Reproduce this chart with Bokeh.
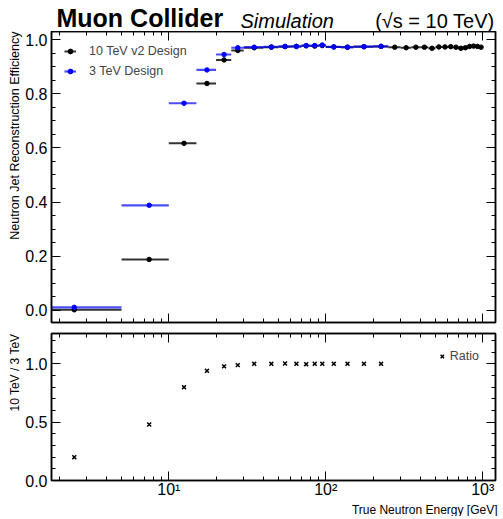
import numpy as np
from bokeh.plotting import figure
from bokeh.layouts import column
from bokeh.core.properties import value
from bokeh.models import (ColumnDataSource, FixedTicker, LogAxis, LinearAxis, Title,
                          Legend, LegendItem, SingleIntervalTicker, PrintfTickFormatter)
from bokeh.embed import file_html
from bokeh.resources import INLINE

# ---------------- data ----------------
edges_3tev = [0, 5, 10, 15, 20, 25, 30, 40, 50, 60, 70, 80, 90, 100, 125, 150, 200, 250]
edges_10tev = [0, 5, 10, 15, 20, 25, 30, 40, 50, 60, 70, 80, 90, 100, 125, 150, 200, 250,
               300, 350, 400, 450, 500, 550, 600, 650, 700, 750, 800, 850, 900, 950, 1000]

eff_10tev = [0.002, 0.188, 0.617, 0.838, 0.925, 0.960, 0.970, 0.972, 0.974, 0.975,
             0.977, 0.976, 0.978, 0.973, 0.972, 0.974, 0.975, 0.972, 0.970, 0.972,
             0.972, 0.968, 0.973, 0.973, 0.974, 0.972, 0.968, 0.970, 0.975, 0.976,
             0.975, 0.972]
eff_3tev = [0.011, 0.388, 0.765, 0.888, 0.945, 0.970, 0.972, 0.973, 0.975, 0.975,
            0.978, 0.978, 0.980, 0.973, 0.972, 0.974, 0.975]
ratio_vals = [0.20, 0.48, 0.80, 0.94, 0.978, 0.989, 1.0, 1.0, 1.003, 1.0,
              0.997, 1.0, 1.0, 1.0, 1.0, 1.0, 1.0]

title_main = "Muon Collider"
title_sub = "Simulation"
title_energy = "(\u221as = 10 TeV)"
legend_10 = "10 TeV v2 Design"
legend_3 = "3 TeV Design"
legend_ratio = "Ratio"
ylabel_top = "Neutron Jet Reconstruction Efficiency"
ylabel_bottom = "10 TeV / 3 TeV"
xlabel = "True Neutron Energy [GeV]"
x_major = [10, 100, 1000]
x_major_labels = {10: "10\u00b9", 100: "10\u00b2", 1000: "10\u00b3"}
x_minor = [2, 3, 4, 5, 6, 7, 8, 9, 20, 30, 40, 50, 60, 70, 80, 90,
           200, 300, 400, 500, 600, 700, 800, 900]
top_ticks = [0.0, 0.2, 0.4, 0.6, 0.8, 1.0]
ratio_ticks = [0.0, 0.5, 1.0]
ratio_minor = [0.1, 0.2, 0.3, 0.4, 0.6, 0.7, 0.8, 0.9, 1.1, 1.2]

# ---------------- layout constants ----------------
FONT = "Liberation Sans"
W = 503
LEFT, RIGHT = 51, 8
FRAME_W = W - LEFT - RIGHT
XMIN, XMAX = 1.79, 1205.0
TOP_Y = (-0.045, 1.03)
BOT_Y = (0.0, 1.26)
HEAD_H = 31


def make_src(edges, vals):
    e = np.array(edges, dtype=float)
    lo, hi = e[:-1], e[1:]
    return ColumnDataSource(dict(x=(lo + hi) / 2, x0=np.maximum(lo, XMIN / 2), x1=hi,
                                 y=np.array(vals, dtype=float)))


def tick_style(ax):
    ax.major_tick_in = 9
    ax.major_tick_out = 0
    ax.minor_tick_in = 4
    ax.minor_tick_out = 0
    ax.axis_line_color = "black"
    ax.axis_line_width = 1.5
    ax.major_tick_line_color = "black"
    ax.minor_tick_line_color = "black"
    ax.major_tick_line_width = 1
    ax.minor_tick_line_width = 1


def label_style(ax, overrides, standoff=4):
    ax.major_label_overrides = overrides
    ax.major_label_text_font = FONT
    ax.major_label_text_font_size = "16px"
    ax.major_label_text_color = "black"
    ax.major_label_standoff = standoff


def hide_labels(ax, ticks):
    ax.major_label_overrides = {t: " " for t in ticks}
    ax.major_label_text_font_size = "1px"
    ax.major_label_text_alpha = 0
    ax.major_label_standoff = 0


def setup_panel(p, yticker, yticks_major, show_x, y_overrides):
    xax = p.below[0]
    yax = p.left[0]
    xticker = FixedTicker(ticks=x_major, minor_ticks=x_minor)
    xax.ticker = xticker
    yax.ticker = yticker
    tick_style(xax)
    tick_style(yax)
    if show_x:
        label_style(xax, x_major_labels, standoff=0)
    else:
        hide_labels(xax, x_major)
    label_style(yax, y_overrides)
    top_ax = LogAxis(ticker=FixedTicker(ticks=x_major, minor_ticks=x_minor))
    right_ax = LinearAxis(ticker=yticker)
    tick_style(top_ax)
    tick_style(right_ax)
    hide_labels(top_ax, x_major)
    hide_labels(right_ax, yticks_major)
    p.add_layout(top_ax, "above")
    p.add_layout(right_ax, "right")
    p.grid.visible = False
    p.outline_line_color = "black"
    p.outline_line_width = 1.5
    p.background_fill_color = "white"
    p.border_fill_color = "white"


# ---------------- header (frame aligned with panels, data x == canvas px) ----------------
head = figure(frame_width=FRAME_W, frame_height=HEAD_H,
              x_range=(LEFT, LEFT + FRAME_W), y_range=(0, HEAD_H),
              output_backend="svg", toolbar_location=None,
              x_axis_location=None, y_axis_location=None,
              min_border_left=LEFT, min_border_right=RIGHT,
              min_border_top=0, min_border_bottom=0, outline_line_color=None)
head.grid.visible = False
head.text(x=[56], y=[14], text=[title_main], text_font=value(FONT),
          text_font_size="25px", text_font_style="bold", text_baseline="middle",
          text_align="left", text_color="black")
head.text(x=[240], y=[11], text=[title_sub], text_font=value(FONT),
          text_font_size="20px", text_font_style="italic", text_baseline="middle",
          text_align="left", text_color="black")
head.text(x=[LEFT + FRAME_W - 1], y=[11], text=[title_energy], text_font=value(FONT),
          text_font_size="20px", text_baseline="middle",
          text_align="right", text_color="black")

# ---------------- top panel ----------------
top = figure(frame_width=FRAME_W, frame_height=291, x_axis_type="log",
             x_range=(XMIN, XMAX), y_range=TOP_Y,
             output_backend="svg", toolbar_location=None,
             min_border_left=LEFT, min_border_right=RIGHT,
             min_border_top=0, min_border_bottom=5)
setup_panel(top, SingleIntervalTicker(interval=0.2, num_minor_ticks=4), top_ticks, False,
            {t: "%.1f" % t for t in top_ticks})
top.left[0].formatter = PrintfTickFormatter(format="%.1f")
top.add_layout(Title(text=ylabel_top, align="right", text_font=FONT,
                     text_font_size="12.5px", text_font_style="normal",
                     text_color="black", standoff=1), "left")

src10 = make_src(edges_10tev, eff_10tev)
src3 = make_src(edges_3tev, eff_3tev)

seg10 = top.segment("x0", "y", "x1", "y", source=src10, line_color="black",
                    line_alpha=0.8, line_width=2)
dot10 = top.scatter("x", "y", source=src10, size=4.5, color="black")
seg3 = top.segment("x0", "y", "x1", "y", source=src3, line_color="#0000ff",
                   line_alpha=0.7, line_width=2.2)
dot3 = top.scatter("x", "y", source=src3, size=4.5, color="#0000ff")

leg = Legend(items=[LegendItem(label=legend_10, renderers=[seg10, dot10]),
                    LegendItem(label=legend_3, renderers=[seg3, dot3])],
             location="top_left", margin=0, padding=13, spacing=6,
             glyph_width=12, glyph_height=12, label_height=12, label_standoff=13,
             label_text_font=FONT, label_text_font_size="12.5px",
             background_fill_alpha=0, border_line_alpha=0)
top.add_layout(leg)

# ---------------- bottom (ratio) panel ----------------
bot = figure(frame_width=FRAME_W, frame_height=147, x_axis_type="log",
             x_range=top.x_range, y_range=BOT_Y,
             output_backend="svg", toolbar_location=None,
             min_border_left=LEFT, min_border_right=RIGHT,
             min_border_top=6, min_border_bottom=0)
setup_panel(bot, FixedTicker(ticks=ratio_ticks, minor_ticks=ratio_minor), ratio_ticks, True,
            {t: "%.1f" % t for t in ratio_ticks})
bot.add_layout(Title(text=ylabel_bottom, align="right", text_font=FONT,
                     text_font_size="12px", text_font_style="normal",
                     text_color="black", standoff=1), "left")
bot.add_layout(Title(text=xlabel, align="right", text_font=FONT,
                     text_font_size="12px", text_font_style="normal",
                     text_color="black", standoff=0, offset=-2), "below")

e3 = np.array(edges_3tev, dtype=float)
rsrc = ColumnDataSource(dict(x=(e3[:-1] + e3[1:]) / 2, y=ratio_vals))
rr = bot.scatter("x", "y", source=rsrc, marker="x", size=5.5, line_color="black",
                 line_width=1.5)
rleg = Legend(items=[LegendItem(label=legend_ratio, renderers=[rr])],
              location="top_right", margin=12, padding=4, glyph_width=12,
              glyph_height=12, label_height=12, label_standoff=2,
              label_text_font=FONT, label_text_font_size="12.5px",
              background_fill_alpha=0, border_line_alpha=0)
bot.add_layout(rleg)

layout = column(head, top, bot, spacing=0)
open("out.html", "w").write(file_html(layout, INLINE))
